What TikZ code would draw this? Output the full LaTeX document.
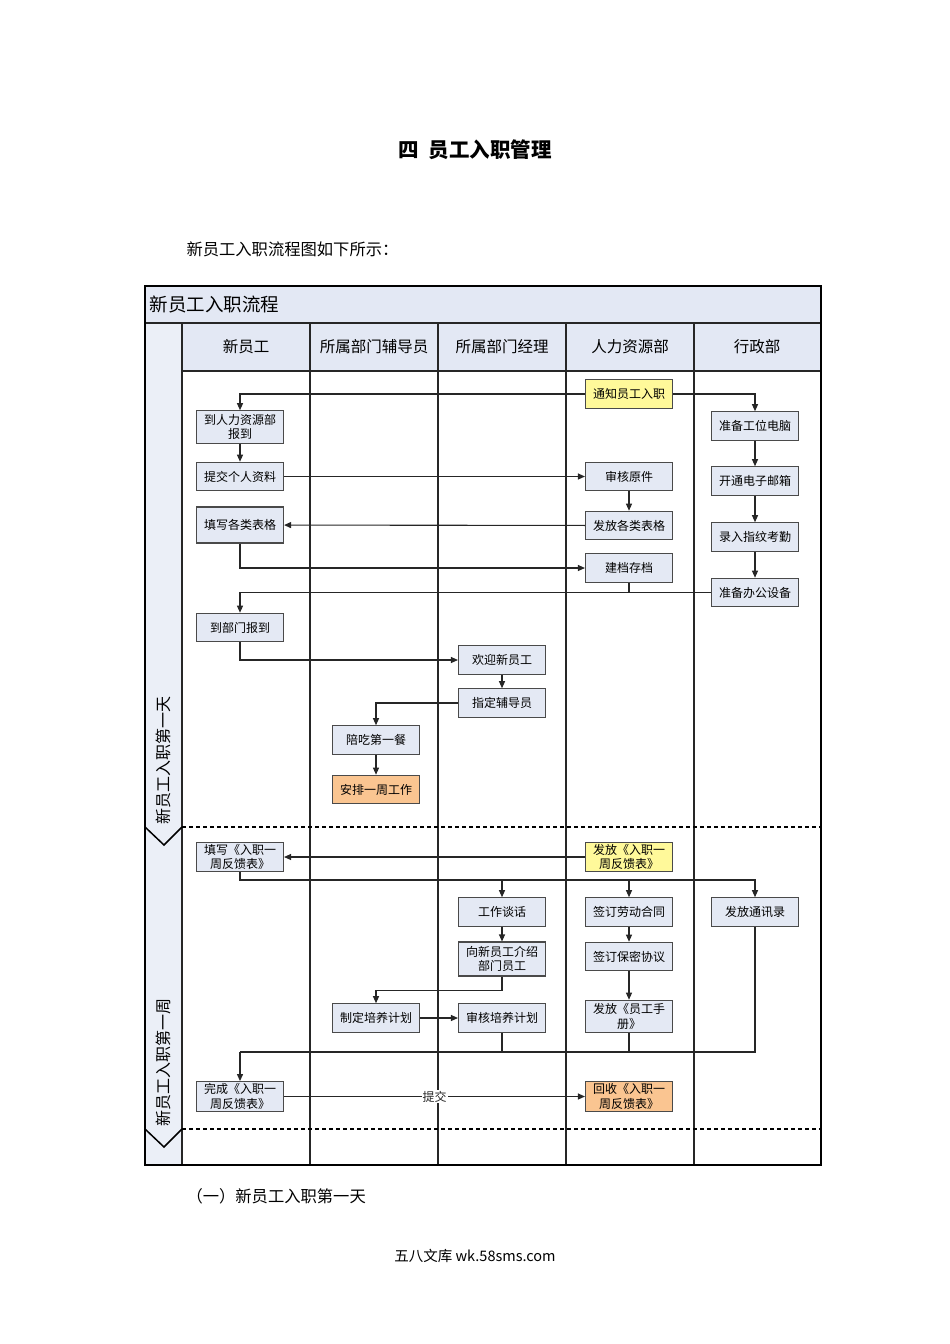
\documentclass[tikz,border=0pt]{standalone}
\usepackage{fontspec}
\setmainfont{Noto Sans CJK SC}
\usepackage{tikz}
\usetikzlibrary{arrows.meta,positioning,calc}

\definecolor{boxfill}{HTML}{E4E9F4}
\definecolor{boxline}{HTML}{4A4A4A}
\definecolor{bandfill}{HTML}{E3E8F4}
\definecolor{notefill}{HTML}{FFF99A}
\definecolor{endfill}{HTML}{FAC591}

\begin{document}
\begin{tikzpicture}[
  x=1pt, y=-1pt,
  task/.style={draw=boxline, fill=boxfill, line width=1.1pt, minimum width=87pt,
    minimum height=28.5pt, inner sep=2pt, align=center,
    font=\fontsize{12}{14.5}\selectfont},
  notice/.style={task, fill=notefill},
  final/.style={task, fill=endfill},
  arrow/.style={-{Triangle[length=7pt,width=6pt]}, line width=1.1pt, black!85},
  link/.style={line width=1.1pt, black!85},
  laneline/.style={line width=1.2pt, black!85},
  phasebreak/.style={line width=2.6pt, dash pattern=on 4pt off 3pt},
  header/.style={font=\fontsize{15.5}{18}\selectfont},
  phaselabel/.style={rotate=90, font=\fontsize{16}{18}\selectfont},
  body/.style={font=\fontsize{16.3}{19}\selectfont, anchor=west},
]
  \useasboundingbox (0,0) rectangle (950,1344);

  % Page text
  \node[font=\fontsize{20.5}{24}\selectfont\bfseries] (title) at (475,150) {四\hspace{0.5em}员工入职管理};
  \node[body] (intro) at (183,249) {新员工入职流程图如下所示：};
  \node[body] (section) at (183,1196) {（一）新员工入职第一天};
  \node[font=\fontsize{14.5}{16}\selectfont] (footer) at (475,1256) {五八文库 wk.58sms.com};

  % Swimlane frame
  \fill[bandfill] (145,286) rectangle (821,323);
  \fill[bandfill] (182,323) rectangle (821,371);
  \fill[bandfill!70] (145,323) rectangle (182,1165);
  \draw[laneline] (145,323) -- (821,323);
  \draw[laneline] (182,371) -- (821,371);
  \foreach \x in {182,310,438,566,694}
    \draw[laneline] (\x,323) -- (\x,1165);
  \draw[line width=1.5pt] (145,286) rectangle (821,1165);
  \node[font=\fontsize{18.5}{20}\selectfont, anchor=west] (chart) at (146,304) {新员工入职流程};

  % Lane headers
  \node[header] (h1) at (246,347) {新员工};
  \node[header] (h2) at (374,347) {所属部门辅导员};
  \node[header] (h3) at (502,347) {所属部门经理};
  \node[header] (h4) at (630,347) {人力资源部};
  \node[header] (h5) at (757,347) {行政部};

  % Phase separators
  \draw[phasebreak] (182,827) -- (821,827);
  \draw[phasebreak] (182,1129) -- (821,1129);
  \draw[line width=1.5pt] (145,827) -- (164,845) -- (182,827);
  \draw[line width=1.5pt] (145,1129) -- (164,1147) -- (182,1129);
  \node[phaselabel] (day1) at (163,760) {新员工入职第一天};
  \node[phaselabel] (week1) at (163,1062) {新员工入职第一周};

  % First day
  \node[notice] (notify) at (629,394) {通知员工入职};
  \node[task, minimum height=32.5pt] (toHR) at (240,427) {到人力资源部\\报到};
  \node[task] (submit) at (240,476.5) {提交个人资料};
  \node[task, minimum height=36pt] (fillForms) at (240,525) {填写各类表格};
  \node[task] (deptReport) at (240,627.5) {到部门报到};
  \node[task] (checkDocs) at (629,476.5) {审核原件};
  \node[task] (giveForms) at (629,525.5) {发放各类表格};
  \node[task] (archive) at (629,568) {建档存档};
  \node[task] (pcPrep) at (755,426) {准备工位电脑};
  \node[task] (mailbox) at (755,481) {开通电子邮箱};
  \node[task] (finger) at (755,537) {录入指纹考勤};
  \node[task] (equip) at (755,592.5) {准备办公设备};
  \node[task] (welcome) at (502,660) {欢迎新员工};
  \node[task] (assign) at (502,703) {指定辅导员};
  \node[task] (lunch) at (376,740) {陪吃第一餐};
  \node[final] (plan1) at (376,789.5) {安排一周工作};

  \draw[arrow] (notify.west) -| (toHR.north);
  \draw[arrow] (notify.east) -| (pcPrep.north);
  \draw[arrow] (toHR) -- (submit);
  \draw[arrow] (submit) -- (checkDocs);
  \draw[arrow] (checkDocs) -- (giveForms);
  \draw[arrow] (giveForms) -- (fillForms);
  \draw[arrow] (fillForms.south) |- (archive.west);
  \draw[arrow] (pcPrep) -- (mailbox);
  \draw[arrow] (mailbox) -- (finger);
  \draw[arrow] (finger) -- (equip);
  \draw[link] (archive.south) -- (archive.south |- equip.west);
  \draw[arrow] (equip.west) -| (deptReport.north);
  \draw[arrow] (deptReport.south) |- (welcome.west);
  \draw[arrow] (welcome) -- (assign);
  \draw[arrow] (assign.west) -| (lunch.north);
  \draw[arrow] (lunch) -- (plan1);

  % First week
  \node[task] (fbFill) at (240,857) {填写《入职一\\周反馈表》};
  \node[notice] (fbGive) at (629,857) {发放《入职一\\周反馈表》};
  \node[task] (talk) at (502,912) {工作谈话};
  \node[task, minimum height=34pt] (intro2) at (502,959) {向新员工介绍\\部门员工};
  \node[task] (plan) at (376,1018) {制定培养计划};
  \node[task] (review) at (502,1018) {审核培养计划};
  \node[task] (contract) at (629,912) {签订劳动合同};
  \node[task] (secret) at (629,956.5) {签订保密协议};
  \node[task, minimum height=32.5pt] (handbook) at (629,1016.5) {发放《员工手\\册》};
  \node[task] (roster) at (755,912) {发放通讯录};
  \node[task] (fbDone) at (240,1096.5) {完成《入职一\\周反馈表》};
  \node[final] (fbBack) at (629,1096.5) {回收《入职一\\周反馈表》};

  \coordinate (railA) at (240,880);
  \coordinate (railB) at (240,1052);

  \draw[arrow] (fbGive) -- (fbFill);
  \draw[arrow] (fbFill.south) -- (railA) -| (roster.north);
  \draw[arrow] (railA -| talk.north) -- (talk.north);
  \draw[arrow] (railA -| contract.north) -- (contract.north);
  \draw[arrow] (talk) -- (intro2);
  \draw[arrow] (contract) -- (secret);
  \draw[arrow] (secret) -- (handbook);
  \draw[arrow] (intro2.south) -- ++(0,14) -| (plan.north);
  \draw[arrow] (plan) -- (review);
  \draw[link] (roster.south) -- (roster.south |- railB) -- (railB);
  \draw[arrow] (railB) -- (fbDone.north);
  \draw[link] (review.south) -- (review.south |- railB);
  \draw[link] (handbook.south) -- (handbook.south |- railB);
  \draw[arrow] (fbDone) -- node[fill=white, inner sep=1pt, font=\fontsize{12}{14}\selectfont] (submitLabel) {提交} (fbBack);
\end{tikzpicture}
\end{document}
